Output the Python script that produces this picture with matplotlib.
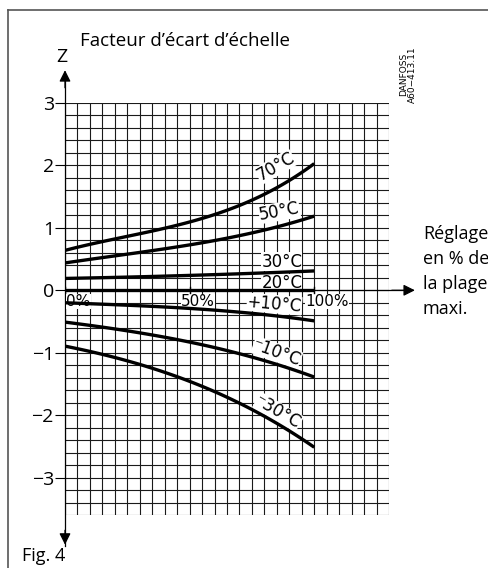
import matplotlib.pyplot as plt
import numpy as np

# setting in % of max range
x_pct = [0, 25, 50, 75, 100]
z_70 = [0.64, 0.86, 1.10, 1.44, 2.03]
z_50 = [0.44, 0.57, 0.74, 0.91, 1.19]
z_30 = [0.19, 0.21, 0.24, 0.27, 0.31]
z_20 = [0.0, 0.0, 0.0, 0.0, 0.0]
z_p10 = [-0.20, -0.24, -0.29, -0.37, -0.49]
z_m10 = [-0.51, -0.65, -0.83, -1.07, -1.39]
z_m30 = [-0.89, -1.15, -1.43, -1.93, -2.51]

curves = [z_70, z_50, z_30, z_20, z_p10, z_m10, z_m30]
labels = ['70°C', '50°C', '30°C', '20°C', '+10°C', '\u207b10°C', '\u207b30°C']
yticks = [3, 2, 1, 0, -1, -2, -3]
yticklabels = ['3', '2', '1', '0', '\u22121', '\u22122', '\u22123']
xticks = [0, 50, 100]
xticklabels = ['0%', '50%', '100%']
side_lines = ['Réglage', 'en % de', 'la plage', 'maxi.']

main_font = ['Open Sans', 'DejaVu Sans']
cad_font = ['DejaVu Sans']

fig = plt.figure(figsize=(4.88, 5.68), dpi=100)
W, H = 488, 568
ax = fig.add_axes([65 / W, 1 - 515 / H, 324 / W, 412 / H])
ax.set_xlim(0, 130)
ax.set_ylim(-3.6, 3)
for s in ax.spines.values():
    s.set_visible(False)

# grid
for gx in np.arange(0, 131, 5):
    ax.axvline(gx, color='#1a1a1a', lw=0.8, zorder=1)
for gy in np.arange(-3.6, 3.01, 0.2):
    ax.axhline(gy, color='#1a1a1a', lw=0.8, zorder=1)

ax.set_xticks([])
ax.set_yticks(yticks)
ax.set_yticklabels(yticklabels, family=main_font, fontsize=14)
ax.tick_params(axis='y', length=7, width=0.8, pad=1)

# curves
x_smooth = np.linspace(0, 100, 101)
for z in curves:
    coef = np.polyfit(x_pct, z, 3)
    ax.plot(x_smooth, np.polyval(coef, x_smooth), color='black', lw=2.4,
            solid_capstyle='butt', zorder=6)

# axes with arrows
ax.plot([0, 0], [-4.1, 3.4], color='black', lw=0.9, clip_on=False, zorder=4)
ax.plot([0, 139], [0, 0], color='black', lw=0.9, clip_on=False, zorder=4)
arrow = dict(arrowstyle='-|>', color='black', lw=0.9, mutation_scale=17)
ax.annotate('', (0, 3.57), (0, 3.2), arrowprops=arrow, annotation_clip=False)
ax.annotate('', (0, -4.12), (0, -3.8), arrowprops=arrow, annotation_clip=False)
ax.annotate('', (141.5, 0), (130, 0), arrowprops=arrow, annotation_clip=False)

# x tick marks and labels
for xt, xl in zip(xticks, xticklabels):
    ax.plot([xt, xt], [-0.05, 0.05], color='black', lw=1, zorder=7)
    off = 0.5 if xt == 0 else -3.5
    ax.text(xt + off, -0.06, xl, ha='left', va='top', fontsize=11,
            family=cad_font, bbox=dict(fc='white', ec='none', pad=0.1),
            zorder=5)

# curve labels
lab_pos = [(84.5, 1.98, 30), (86, 1.26, 10), (87, 0.46, 0), (87, 0.12, 0),
           (84, -0.22, -5), (85, -1.0, -20), (85.5, -1.95, -30)]
for (lx, ly, rot), t in zip(lab_pos, labels):
    ax.text(lx, ly, t, ha='center', va='center', rotation=rot, fontsize=12,
            family=cad_font, bbox=dict(fc='white', ec='none', pad=0.1),
            zorder=5)

fig.text(62 / W, 1 - 57 / H, 'Z', ha='center', va='center', fontsize=14,
         family=main_font)
fig.text(80 / W, 1 - 41 / H, 'Facteur d\u2019écart d\u2019échelle', ha='left',
         va='center', fontsize=13.5, family=main_font)
for i, s in enumerate(side_lines):
    fig.text(423 / W, 1 - (234 + 25 * i) / H, s, ha='left', va='center',
             fontsize=13, family=main_font)
fig.text(408 / W, 1 - 103 / H, 'DANFOSS\nA60\u2212413.11', ha='center',
         va='bottom', rotation=90, fontsize=6.5, family=cad_font,
         linespacing=0.9)
fig.text(22 / W, 1 - 556 / H, 'Fig. 4', ha='left', va='center', fontsize=13,
         family=main_font)

# frame
fig.add_artist(plt.Line2D([8 / W, 8 / W], [0, 1 - 10 / H], color='#555555',
                          lw=1.2))
fig.add_artist(plt.Line2D([8 / W, 1], [1 - 10 / H, 1 - 10 / H],
                          color='#555555', lw=1.2))

fig.savefig('out.png', dpi=100)
